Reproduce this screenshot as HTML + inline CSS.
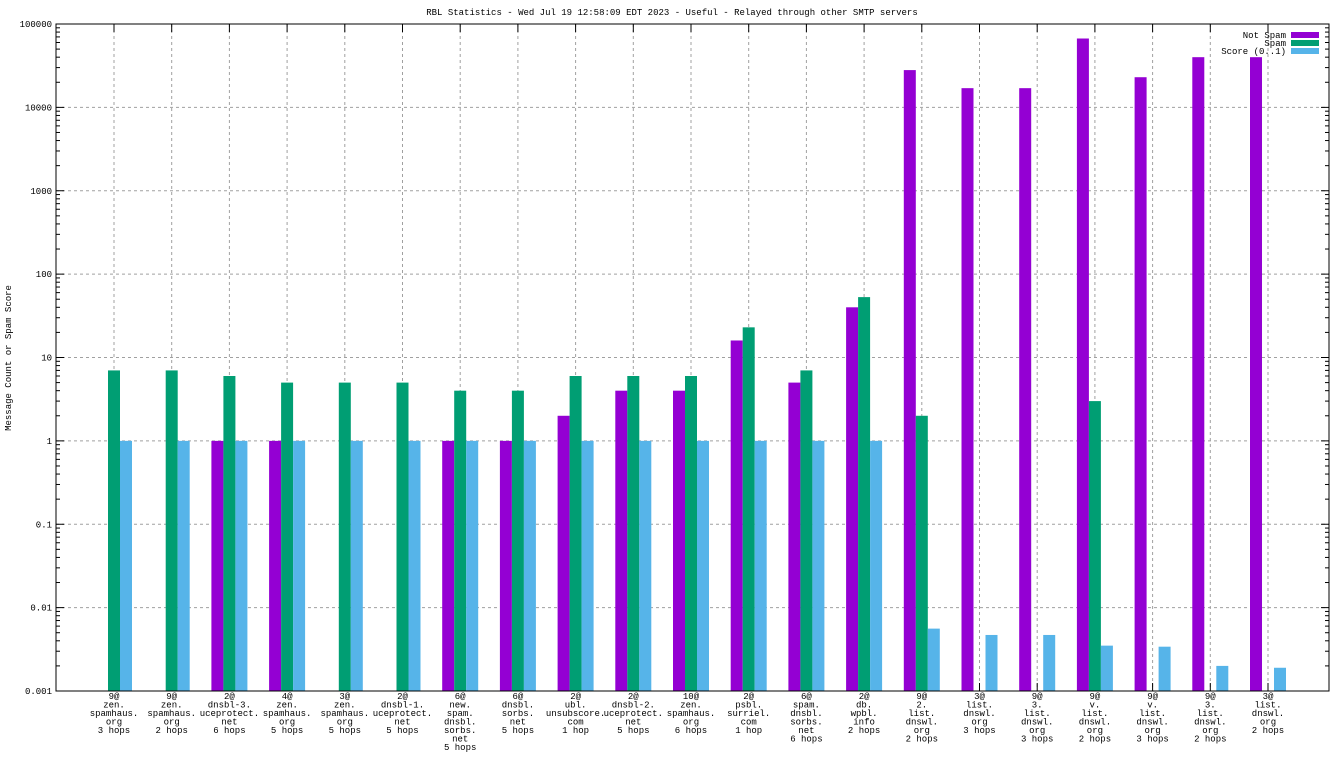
<!DOCTYPE html>
<html><head><meta charset="utf-8"><style>
html,body{margin:0;padding:0;background:#fff;}
svg text{font-family:"Liberation Mono","DejaVu Sans Mono",monospace;font-size:9px;fill:#000;}
</style></head><body>
<svg id="chart" width="1344" height="756" xmlns="http://www.w3.org/2000/svg">
<text x="672" y="15" text-anchor="middle">RBL Statistics - Wed Jul 19 12:58:09 EDT 2023 - Useful - Relayed through other SMTP servers</text>
<text transform="translate(11,358) rotate(-90)" text-anchor="middle">Message Count or Spam Score</text>
</svg>
<script>
const categories=["9@\nzen.\nspamhaus.\norg\n3 hops","9@\nzen.\nspamhaus.\norg\n2 hops","2@\ndnsbl-3.\nuceprotect.\nnet\n6 hops","4@\nzen.\nspamhaus.\norg\n5 hops","3@\nzen.\nspamhaus.\norg\n5 hops","2@\ndnsbl-1.\nuceprotect.\nnet\n5 hops","6@\nnew.\nspam.\ndnsbl.\nsorbs.\nnet\n5 hops","6@\ndnsbl.\nsorbs.\nnet\n5 hops","2@\nubl.\nunsubscore.\ncom\n1 hop","2@\ndnsbl-2.\nuceprotect.\nnet\n5 hops","10@\nzen.\nspamhaus.\norg\n6 hops","2@\npsbl.\nsurriel.\ncom\n1 hop","6@\nspam.\ndnsbl.\nsorbs.\nnet\n6 hops","2@\ndb.\nwpbl.\ninfo\n2 hops","9@\n2.\nlist.\ndnswl.\norg\n2 hops","3@\nlist.\ndnswl.\norg\n3 hops","9@\n3.\nlist.\ndnswl.\norg\n3 hops","9@\nv.\nlist.\ndnswl.\norg\n2 hops","9@\nv.\nlist.\ndnswl.\norg\n3 hops","9@\n3.\nlist.\ndnswl.\norg\n2 hops","3@\nlist.\ndnswl.\norg\n2 hops"];
const notSpam=[0,0,1,1,0,0,1,1,2,4,4,16,5,40,28000,17000,17000,67000,23000,40000,40000];
const spam=[7,7,6,5,5,5,4,4,6,6,6,23,7,53,2,0,0,3,0,0,0];
const score=[1,1,1,1,1,1,1,1,1,1,1,1,1,1,0.0056,0.0047,0.0047,0.0035,0.0034,0.002,0.0019];
const yTicks=["0.001","0.01","0.1","1","10","100","1000","10000","100000"];

const NS="http://www.w3.org/2000/svg";
const svg=document.getElementById('chart');
const L=56,R=1329,T=24,B=691;
const yScale=v=>B-(Math.log10(v)+3)*(B-T)/8;
const xScale=i=>114+i*57.7;
function mk(tag,attrs){const e=document.createElementNS(NS,tag);for(const k in attrs)e.setAttribute(k,attrs[k]);svg.appendChild(e);return e;}

// grid + y ticks
yTicks.forEach((t,k)=>{
  const y=yScale(parseFloat(t));
  const g=mk('line',{x1:L,x2:R,y1:y,y2:y,stroke:'#a0a0a0','stroke-dasharray':'3,3'});
  
  
  const tx=mk('text',{x:L-4,y:y+3,'text-anchor':'end'});tx.textContent=t;
  
  
  mk('line',{x1:L,x2:L+8,y1:y,y2:y,stroke:'#000'});
  mk('line',{x1:R,x2:R-8,y1:y,y2:y,stroke:'#000'});
  if(k<yTicks.length-1){for(let m=2;m<10;m++){const ym=yScale(parseFloat(t)*m);
    mk('line',{x1:L,x2:L+4,y1:ym,y2:ym,stroke:'#000'});mk('line',{x1:R,x2:R-4,y1:ym,y2:ym,stroke:'#000'});}}
});
categories.forEach((c,i)=>{
  const x=xScale(i);
  const g=mk('line',{x1:x,x2:x,y1:T,y2:B,stroke:'#a0a0a0','stroke-dasharray':'3,3'});
  
  
  mk('line',{x1:x,x2:x,y1:B,y2:B-8,stroke:'#000'});
  mk('line',{x1:x,x2:x,y1:T,y2:T+8,stroke:'#000'});
  const tx=mk('text',{x:x,y:699,'text-anchor':'middle'});
  
  
  c.split('\n').forEach((ln,j)=>{const s=document.createElementNS(NS,'tspan');s.setAttribute('x',x);s.setAttribute('dy',j?8.5:0);s.textContent=ln;tx.appendChild(s);});
});
const series=[[notSpam,'#9400d3',-18,'bar-not-spam'],[spam,'#009e73',-6,'bar-spam'],[score,'#56b4e9',6,'bar-score']];
series.forEach(([vals,col,off,nm])=>{
  vals.forEach((v,i)=>{ if(v<=0)return;
    const y=yScale(v);
    const r=mk('rect',{x:xScale(i)+off,y:y,width:12,height:B-y,fill:col});
    
    
  });
});
const fr=mk('rect',{x:L,y:T,width:R-L,height:B-T,fill:'none',stroke:'#000'});


// legend
[['Not Spam','#9400d3'],['Spam','#009e73'],['Score (0..1)','#56b4e9']].forEach(([lab,col],k)=>{
  const y=35+k*8;
  const t=mk('text',{x:1286,y:y+3,'text-anchor':'end'});t.textContent=lab;
  
  
  const r=mk('rect',{x:1291,y:y-3,width:28,height:6,fill:col});
  
  
});
</script>
</body></html>
